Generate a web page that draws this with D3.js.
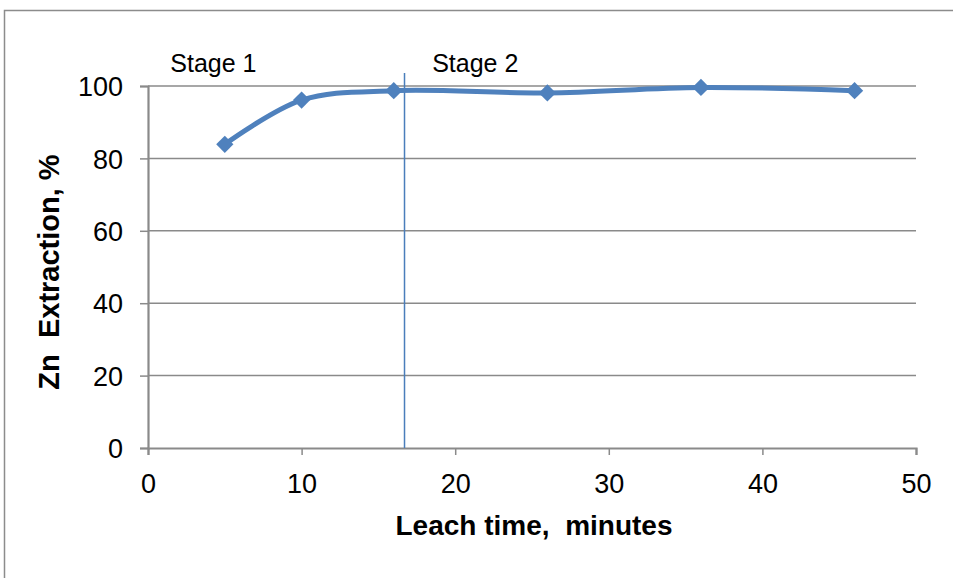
<!DOCTYPE html>
<html>
<head>
<meta charset="utf-8">
<script src="https://cdn.jsdelivr.net/npm/d3@7/dist/d3.min.js"></script>
<style>
  html, body { margin: 0; padding: 0; background: #fff; }
  svg { display: block; font-family: "Liberation Sans", Arial, sans-serif; }
</style>
</head>
<body>
<svg id="chart" width="953" height="578"></svg>
<script>
// Zinc extraction versus leach time
const leachTime = [5, 10, 16, 26, 36, 46];
const znExtraction = [83.9, 96.1, 98.7, 98.1, 99.6, 98.7];
const xTicks = [0, 10, 20, 30, 40, 50];
const yTicks = [0, 20, 40, 60, 80, 100];
const stageBoundary = 16.7;
const stageLabels = [
  { text: "Stage 1", x: 1.45 },
  { text: "Stage 2", x: 18.5 }
];

const svg = d3.select("#chart");
const W = 953, H = 578;
const FONT = "'Liberation Sans', Arial, sans-serif";

// outer chart frame
svg.append("rect")
  .attr("x", 4.5).attr("y", 10.5)
  .attr("width", W + 10).attr("height", H + 10)
  .attr("fill", "none").attr("stroke", "#8c8c8c").attr("stroke-width", 1.5);

const x = d3.scaleLinear().domain([0, 50]).range([148, 916]);
const y = d3.scaleLinear().domain([0, 100]).range([448, 86]);

const grid = "#8a8a8a";

// horizontal gridlines
svg.append("g").selectAll("line")
  .data(yTicks.filter(d => d > 0))
  .join("line")
  .attr("x1", x(0)).attr("x2", x(50))
  .attr("y1", d => y(d)).attr("y2", d => y(d))
  .attr("stroke", grid).attr("stroke-width", 1.5);

// y axis
const yAxis = svg.append("g")
  .attr("transform", `translate(${x(0)},0)`)
  .call(d3.axisLeft(y).tickValues(yTicks).tickSize(8).tickPadding(17));
// x axis
const xAxis = svg.append("g")
  .attr("transform", `translate(0,${y(0)})`)
  .call(d3.axisBottom(x).tickValues(xTicks).tickSize(7).tickPadding(19));

[yAxis, xAxis].forEach(g => {
  g.attr("font-size", null).attr("font-family", null);
  g.select(".domain").attr("stroke", grid).attr("stroke-width", 2.2);
  g.selectAll(".tick line").attr("stroke", grid).attr("stroke-width", 1.5);
  g.selectAll(".tick text")
    .attr("fill", "#000")
    .style("font-size", "27px")
    .style("font-family", FONT);
});
yAxis.selectAll(".tick text").attr("dy", "0.36em");
xAxis.selectAll(".tick text").attr("dy", "0.71em");

// stage boundary
svg.append("line")
  .attr("x1", x(stageBoundary)).attr("x2", x(stageBoundary))
  .attr("y1", 73).attr("y2", y(0))
  .attr("stroke", "#4a7ebb").attr("stroke-width", 1.5);

// stage labels
svg.append("g").selectAll("text")
  .data(stageLabels)
  .join("text")
  .attr("x", d => x(d.x)).attr("y", 72)
  .style("font-size", "25px")
  .style("font-family", FONT)
  .attr("fill", "#000")
  .text(d => d.text);

// smoothed series line
const pts = leachTime.map((t, i) => [t, znExtraction[i]]);
svg.append("path")
  .datum(pts)
  .attr("fill", "none")
  .attr("stroke", "#4f81bd")
  .attr("stroke-width", 5)
  .attr("stroke-linejoin", "round")
  .attr("d", d3.line().x(d => x(d[0])).y(d => y(d[1])).curve(d3.curveCatmullRom.alpha(0.5)));

// diamond markers
const diamond = d3.symbol().type(d3.symbolDiamond2).size(190);
svg.append("g").selectAll("path")
  .data(pts)
  .join("path")
  .attr("transform", d => `translate(${x(d[0])},${y(d[1])})`)
  .attr("d", diamond)
  .attr("fill", "#4f81bd");

// axis titles
svg.append("text")
  .attr("x", (x(0) + x(50)) / 2 + 2).attr("y", 535)
  .attr("text-anchor", "middle")
  .style("font-size", "28px").style("font-weight", "bold")
  .style("font-family", FONT)
  .style("white-space", "pre")
  .text("Leach time,  minutes");

svg.append("text")
  .attr("transform", `translate(${59},${272}) rotate(-90)`)
  .attr("text-anchor", "middle")
  .style("font-size", "29px").style("font-weight", "bold")
  .style("font-family", FONT)
  .style("white-space", "pre")
  .text("Zn  Extraction, %");
</script>
</body>
</html>
